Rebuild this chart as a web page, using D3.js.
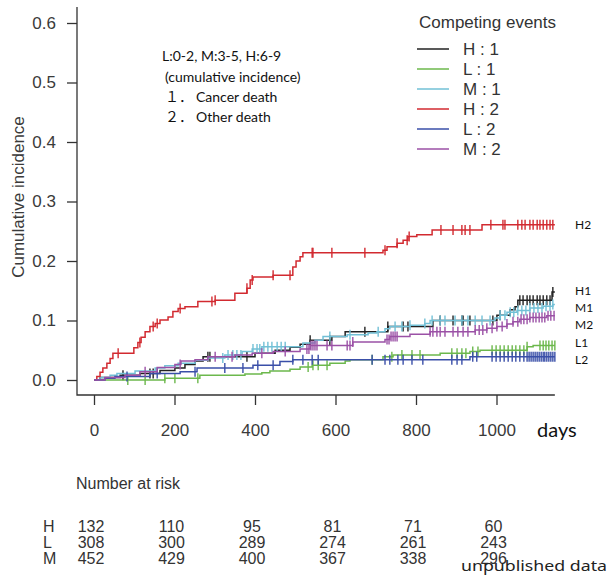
<!DOCTYPE html>
<html>
<head>
<meta charset="utf-8">
<script src="https://cdn.jsdelivr.net/npm/d3@7"></script>
<style>
body { margin: 0; background: #fff; }
</style>
</head>
<body>
<div id="chart"></div>
<script>
// axis ticks
var xTicks = [0, 200, 400, 600, 800, 1000];
var yTicks = [0, 0.1, 0.2, 0.3, 0.4, 0.5, 0.6];
var lastDay = 1145;

// number at risk
var riskGroups = ['H', 'L', 'M'];
var riskH = [132, 110, 95, 81, 71, 60];
var riskL = [308, 300, 289, 274, 261, 243];
var riskM = [452, 429, 400, 367, 338, 296];

// H : 1
var h1Days = [15, 65, 114, 164, 201, 226, 251, 271, 400, 450, 487, 512, 537, 591, 624, 730, 842, 1001, 1034, 1046, 1053, 1138];
var h1Cif = [0.004, 0.008, 0.011, 0.016, 0.02, 0.026, 0.032, 0.039, 0.045, 0.05, 0.055, 0.06, 0.067, 0.073, 0.081, 0.09, 0.1, 0.109, 0.118, 0.123, 0.134, 0.148];
var h1Cens = [72, 139, 147, 283, 288, 380, 537, 586, 673, 730, 768, 780, 860, 892, 914, 917, 934, 991, 1009, 1058, 1066, 1076, 1083, 1091, 1101, 1108, 1116, 1125, 1133, 1140];

// L : 1
var l1Days = [176, 263, 375, 417, 437, 487, 512, 542, 586, 624, 636, 718, 743, 860, 934, 959, 1076, 1091];
var l1Cif = [0.003, 0.008, 0.01, 0.012, 0.015, 0.018, 0.022, 0.025, 0.028, 0.032, 0.034, 0.039, 0.042, 0.045, 0.048, 0.05, 0.056, 0.058];
var l1Cens = [84, 127, 176, 201, 258, 532, 544, 557, 579, 691, 740, 765, 790, 810, 889, 902, 914, 924, 941, 954, 989, 999, 1009, 1019, 1029, 1039, 1048, 1058, 1068, 1076, 1108, 1116, 1123, 1130, 1138, 1145];

// M : 1
var m1Days = [15, 40, 57, 102, 152, 176, 209, 251, 283, 325, 368, 393, 417, 519, 549, 569, 629, 681, 703, 723, 735, 785, 822, 835, 996, 1009, 1026, 1051, 1083, 1116, 1140];
var m1Cif = [0.004, 0.008, 0.011, 0.015, 0.02, 0.024, 0.028, 0.033, 0.037, 0.042, 0.048, 0.052, 0.056, 0.062, 0.067, 0.073, 0.076, 0.079, 0.081, 0.086, 0.09, 0.092, 0.095, 0.1, 0.104, 0.109, 0.114, 0.117, 0.121, 0.124, 0.127];
var m1Cens = [320, 333, 345, 355, 365, 395, 405, 412, 422, 432, 442, 455, 465, 475, 586, 636, 706, 748, 765, 785, 822, 840, 860, 872, 897, 914, 929, 947, 964, 984, 1009, 1021, 1034, 1043, 1053, 1063, 1073, 1083, 1093, 1103, 1113, 1123, 1133, 1140];

// H : 2
var h2Days = [7, 15, 22, 32, 40, 47, 99, 109, 117, 127, 139, 152, 164, 184, 196, 209, 226, 258, 301, 350, 380, 388, 395, 445, 494, 502, 512, 519, 718, 728, 753, 768, 780, 802, 840, 964];
var h2Cif = [0.006, 0.013, 0.02, 0.028, 0.036, 0.045, 0.054, 0.063, 0.072, 0.081, 0.09, 0.095, 0.101, 0.106, 0.115, 0.12, 0.123, 0.132, 0.134, 0.146, 0.154, 0.168, 0.173, 0.176, 0.19, 0.2, 0.207, 0.214, 0.218, 0.224, 0.23, 0.235, 0.241, 0.244, 0.252, 0.261];
var h2Cens = [60, 114, 147, 157, 214, 293, 301, 380, 393, 445, 487, 542, 544, 591, 673, 723, 753, 778, 783, 862, 892, 914, 922, 934, 986, 1016, 1021, 1053, 1063, 1071, 1083, 1091, 1101, 1108, 1116, 1125, 1133, 1140];

// L : 2
var l2Days = [27, 52, 139, 214, 256, 395, 462, 494, 934];
var l2Cif = [0.003, 0.006, 0.011, 0.014, 0.02, 0.025, 0.031, 0.034, 0.039];
var l2Cens = [82, 157, 251, 325, 370, 407, 445, 494, 519, 542, 557, 691, 723, 735, 755, 768, 790, 817, 889, 902, 914, 941, 951, 989, 999, 1009, 1019, 1029, 1039, 1048, 1058, 1068, 1076, 1081, 1086, 1091, 1096, 1101, 1106, 1111, 1116, 1120, 1125, 1130, 1135, 1140, 1145];

// M : 2
var m2Days = [27, 77, 114, 157, 201, 216, 251, 283, 350, 393, 445, 512, 537, 643, 723, 735, 785, 835, 947, 976, 1001, 1026, 1041, 1058, 1083, 1125];
var m2Cif = [0.004, 0.008, 0.014, 0.021, 0.026, 0.032, 0.034, 0.039, 0.042, 0.045, 0.048, 0.052, 0.058, 0.064, 0.068, 0.073, 0.077, 0.081, 0.084, 0.087, 0.09, 0.094, 0.098, 0.102, 0.105, 0.108];
var m2Cens = [127, 214, 301, 343, 417, 475, 529, 534, 539, 544, 549, 554, 579, 591, 629, 636, 643, 728, 733, 738, 743, 748, 753, 835, 842, 852, 860, 872, 892, 904, 917, 929, 947, 957, 966, 976, 989, 1001, 1014, 1026, 1041, 1053, 1061, 1068, 1076, 1083, 1091, 1098, 1106, 1113, 1120, 1128, 1135, 1143];

var series = [
  {key: 'H : 1', days: h1Days, cif: h1Cif, cens: h1Cens, color: '#222222'},
  {key: 'L : 1', days: l1Days, cif: l1Cif, cens: l1Cens, color: '#6cb84c'},
  {key: 'M : 1', days: m1Days, cif: m1Cif, cens: m1Cens, color: '#72c0d6'},
  {key: 'H : 2', days: h2Days, cif: h2Cif, cens: h2Cens, color: '#d22a30'},
  {key: 'L : 2', days: l2Days, cif: l2Cif, cens: l2Cens, color: '#3a4fa8'},
  {key: 'M : 2', days: m2Days, cif: m2Cif, cens: m2Cens, color: '#9b51a6'}
];
var endTags = ['H2', 'H1', 'M1', 'M2', 'L1', 'L2'];

var width = 613, height = 575;
var svg = d3.select('#chart').append('svg')
  .attr('width', width).attr('height', height)
  .style('font-family', 'Liberation Sans, Arial, sans-serif');

var x = d3.scaleLinear().domain([0, 1000]).range([94, 496.5]);
var y = d3.scaleLinear().domain([0, 0.6]).range([380, 23]);
var axisColor = '#333';

// L shaped box
svg.append('path')
  .attr('d', 'M77,7V395H' + x(lastDay))
  .style('fill', 'none').style('stroke', axisColor).style('stroke-width', 1.3);

// y axis
var gy = svg.append('g').attr('transform', 'translate(77,0)')
  .call(d3.axisLeft(y).tickValues(yTicks).tickSize(10).tickPadding(11).tickFormat(d3.format('.1f')));
gy.select('.domain').remove();
gy.selectAll('line').style('stroke', axisColor).style('stroke-width', 1.3);
gy.selectAll('text').style('font-size', '17px').style('font-family', 'Liberation Sans, Arial, sans-serif').style('fill', '#3a3a3a');

// x axis
var gx = svg.append('g').attr('transform', 'translate(0,395)')
  .call(d3.axisBottom(x).tickValues(xTicks).tickSize(10).tickPadding(19).tickFormat(d3.format('d')));
gx.select('.domain').remove();
gx.selectAll('line').style('stroke', axisColor).style('stroke-width', 1.3);
gx.selectAll('text').style('font-size', '17px').style('font-family', 'Liberation Sans, Arial, sans-serif').style('fill', '#3a3a3a');

svg.append('text')
  .attr('transform', 'translate(24,197) rotate(-90)')
  .attr('text-anchor', 'middle')
  .style('font-size', '17px').style('fill', '#3a3a3a')
  .text('Cumulative incidence');

svg.append('text')
  .attr('x', 537).attr('y', 437)
  .style('font-family', 'Lato, sans-serif').style('font-size', '20px').style('fill', '#111')
  .text('days');

// curves
var line = d3.line()
  .x(function(d) { return x(d[0]); })
  .y(function(d) { return y(d[1]); })
  .curve(d3.curveStepAfter);

series.forEach(function(s) {
  var pts = [[0, 0]];
  s.days.forEach(function(t, i) { pts.push([t, s.cif[i]]); });
  pts.push([lastDay, s.cif[s.cif.length - 1]]);
  var g = svg.append('g');
  g.append('path').datum(pts)
    .attr('d', line)
    .style('fill', 'none').style('stroke', s.color).style('stroke-width', 1.5);
  g.selectAll('line').data(s.cens).enter().append('line')
    .attr('x1', function(t) { return x(t); })
    .attr('x2', function(t) { return x(t); })
    .attr('y1', function(t) { var i = d3.bisectRight(s.days, t); return y(i ? s.cif[i - 1] : 0) - 5; })
    .attr('y2', function(t) { var i = d3.bisectRight(s.days, t); return y(i ? s.cif[i - 1] : 0) + 5; })
    .style('stroke', s.color).style('stroke-width', 1.4);
});

// legend
svg.append('text')
  .attr('x', 419).attr('y', 28)
  .style('font-size', '17px').style('fill', '#333')
  .text('Competing events');
var lg = svg.selectAll('.lg').data(series).enter().append('g')
  .attr('transform', function(d, i) { return 'translate(417,' + (49 + i * 20) + ')'; });
lg.append('line').attr('x1', 0).attr('x2', 32)
  .style('stroke', function(d) { return d.color; }).style('stroke-width', 1.5);
lg.append('text').attr('x', 46).attr('y', 6)
  .style('font-size', '17px').style('fill', '#333')
  .text(function(d) { return d.key; });

// note
var note = ['L:0-2, M:3-5, H:6-9', '(cumulative incidence)'];
note.forEach(function(t, i) {
  svg.append('text').attr('x', i ? 165 : 162).attr('y', 61 + i * 21)
    .style('font-family', 'Lato, sans-serif').style('font-size', '14px').style('fill', '#111')
    .text(t);
});
['Cancer death', 'Other death'].forEach(function(t, i) {
  svg.append('text').attr('x', 165).attr('y', 102 + i * 20)
    .style('font-family', 'Noto Sans CJK JP, sans-serif').style('font-size', '14px').style('fill', '#111')
    .text(['１．', '２．'][i]);
  svg.append('text').attr('x', 196).attr('y', 102 + i * 20)
    .style('font-family', 'Lato, sans-serif').style('font-size', '14px').style('fill', '#111')
    .text(t);
});

// tags at the curve ends
svg.selectAll('.tag').data(endTags).enter().append('text')
  .attr('x', 575).attr('y', function(d, i) { return i ? 295 + (i - 1) * 17.2 : 229; })
  .style('font-family', 'Lato, sans-serif').style('font-size', '12px').style('fill', '#111')
  .text(function(d) { return d; });

// number at risk
svg.append('text').attr('x', 76).attr('y', 489)
  .style('font-size', '16px').style('fill', '#333')
  .text('Number at risk');
[riskH, riskL, riskM].forEach(function(row, r) {
  var by = 532 + r * 16;
  svg.append('text').attr('x', 43).attr('y', by)
    .style('font-size', '16px').style('fill', '#333')
    .text(riskGroups[r]);
  svg.selectAll('.rk' + r).data(row).enter().append('text')
    .attr('x', function(d, i) { return x(xTicks[i]) - 3; }).attr('y', by)
    .attr('text-anchor', 'middle')
    .style('font-size', '16px').style('fill', '#333')
    .text(function(d) { return d; });
});

svg.append('text').attr('x', 461).attr('y', 570.5)
  .attr('textLength', 146).attr('lengthAdjust', 'spacingAndGlyphs')
  .style('font-family', 'Noto Sans, sans-serif').style('font-size', '14px').style('fill', '#222')
  .text('unpublished data');
</script>
</body>
</html>
